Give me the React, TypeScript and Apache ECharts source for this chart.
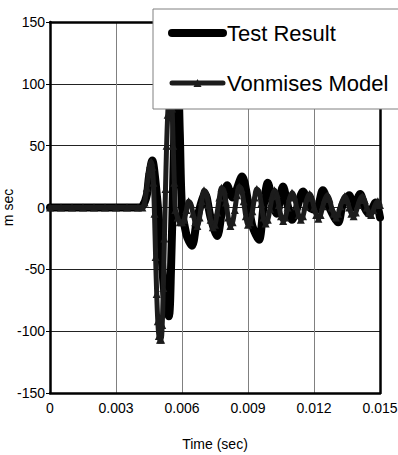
import React, { useEffect, useRef } from "react";
import * as echarts from "echarts";

const seriesNames = ["Test Result", "Vonmises Model"];
const xTicks = { min: 0, max: 0.015, interval: 0.003 };
const yTicks = { min: -150, max: 150, interval: 50 };

// [time (sec), value]
const testResult: number[][] = [
  [0, 0], [0.001, 0], [0.002, 0], [0.003, 0], [0.004, 0], [0.0042, 1],
  [0.0044, 10], [0.0045, 25], [0.00465, 38], [0.0048, 20], [0.005, -20],
  [0.0052, -70], [0.0054, -88], [0.0055, -50], [0.0056, 20], [0.0057, 90],
  [0.0058, 112], [0.0059, 60], [0.006, 0], [0.0062, -22], [0.00645, -31],
  [0.0067, -8], [0.00705, 11], [0.0073, -8], [0.0076, -23], [0.0078, -5],
  [0.00805, 18], [0.0083, 8], [0.00873, 25], [0.009, 5], [0.0092, -15],
  [0.0095, -26], [0.0097, 0], [0.0099, 20], [0.0101, 5], [0.0103, -5],
  [0.01059, 17], [0.0108, 2], [0.011, -10], [0.0112, -2], [0.0115, 13],
  [0.0118, 0], [0.0121, -2], [0.0124, 14], [0.0127, 0], [0.0131, -12],
  [0.0133, 2], [0.0136, 10], [0.0138, 0], [0.0141, 11], [0.0143, 0],
  [0.0145, -5], [0.0148, 4], [0.015, -8],
];

const vonmisesModel: number[][] = [
  [0, 0], [0.0005, 0], [0.001, 0], [0.0015, 0], [0.002, 0], [0.0025, 0],
  [0.003, 0], [0.0035, 0], [0.004, 0], [0.0042, 0], [0.0043, 4],
  [0.0044, 16], [0.0045, 30], [0.00455, 35], [0.0046, 37], [0.00465, 33],
  [0.0047, 20], [0.00475, -5], [0.0048, -40], [0.00485, -70], [0.0049, -92],
  [0.00495, -104], [0.005, -107], [0.00505, -107], [0.0051, -95],
  [0.00515, -65], [0.0052, -25], [0.00525, 15], [0.0053, 50], [0.00535, 75],
  [0.0054, 90], [0.00545, 95], [0.0055, 93], [0.00555, 80], [0.0056, 50],
  [0.00565, 20], [0.0057, -2], [0.0058, -8], [0.0059, -12], [0.006, -12],
  [0.0061, -10], [0.0062, -2], [0.0063, 5], [0.0064, 3], [0.0065, -5],
  [0.0066, -12], [0.0067, -15], [0.0068, -8], [0.0069, 5], [0.007, 14],
  [0.0071, 12], [0.0072, 2], [0.0073, -10], [0.0074, -16], [0.0075, -14],
  [0.0076, -4], [0.0077, 8], [0.0078, 16], [0.0079, 14], [0.008, 4],
  [0.0081, -8], [0.0082, -15], [0.0083, -12], [0.0084, -2], [0.0085, 10],
  [0.0086, 17], [0.0087, 15], [0.0088, 5], [0.0089, -7], [0.009, -14],
  [0.0091, -12], [0.0092, -3], [0.0093, 8], [0.0094, 15], [0.0095, 13],
  [0.0096, 3], [0.0097, -8], [0.0098, -13], [0.0099, -10], [0.01, -1],
  [0.0101, 9], [0.0102, 14], [0.0103, 11], [0.0104, 2], [0.0105, -7],
  [0.0106, -11], [0.0107, -8], [0.0108, 0], [0.0109, 8], [0.011, 12],
  [0.0111, 9], [0.0112, 1], [0.0113, -6], [0.0114, -10], [0.0115, -7],
  [0.0116, 1], [0.0117, 8], [0.0118, 11], [0.0119, 8], [0.012, 0],
  [0.0121, -6], [0.0122, -9], [0.0123, -6], [0.0124, 1], [0.0125, 7],
  [0.0126, 10], [0.0127, 7], [0.0128, 0], [0.0129, -5], [0.013, -8],
  [0.0131, -5], [0.0132, 1], [0.0133, 6], [0.0134, 9], [0.0135, 6],
  [0.0136, 0], [0.0137, -5], [0.0138, -7], [0.0139, -4], [0.014, 2],
  [0.0141, 7], [0.0142, 9], [0.0143, 6], [0.0144, 0], [0.0145, -4],
  [0.0146, -6], [0.0147, -2], [0.0148, 3], [0.0149, 5], [0.015, 2],
];

const FONT = "'Liberation Sans', Arial, sans-serif";

export default function App() {
  const ref = useRef<HTMLDivElement>(null);
  useEffect(() => {
    if (!ref.current) return;
    const chart = echarts.init(ref.current, null, { renderer: "svg" });
    chart.setOption({
      animation: false,
      backgroundColor: "#ffffff",
      textStyle: { fontFamily: FONT },
      grid: {
        left: 50,
        right: 18,
        top: 22,
        bottom: 62,
        containLabel: false,
        outerBoundsMode: "none",
      },
      legend: {
        orient: "vertical",
        left: 153,
        top: 9,
        padding: [13, 24, 15, 15],
        itemGap: 28,
        itemWidth: 51,
        itemHeight: 10,
        backgroundColor: "#ffffff",
        borderColor: "#808080",
        borderWidth: 1,
        borderRadius: 0,
        z: 10,
        textStyle: { fontSize: 22, color: "#000", fontFamily: FONT, padding: [0, 0, 0, -1] },
        data: [
          {
            name: seriesNames[0],
            itemStyle: { opacity: 0 },
            lineStyle: { width: 8, cap: "round", color: "#000" },
          },
          {
            name: seriesNames[1],
            itemStyle: { color: "#1c1c1c" },
            lineStyle: { width: 5, cap: "round", color: "#1c1c1c" },
          },
        ],
      },
      xAxis: [
        {
          type: "value",
          min: xTicks.min,
          max: xTicks.max,
          interval: xTicks.interval,
          name: "Time (sec)",
          nameLocation: "middle",
          nameGap: 44,
          nameMoveOverlap: false,
          nameTextStyle: { fontSize: 14, color: "#000", fontFamily: FONT },
          axisLine: { show: true, onZero: false, lineStyle: { color: "#000", width: 2.5 } },
          axisTick: { show: false },
          axisLabel: {
            fontSize: 14,
            color: "#000",
            margin: 8,
            fontFamily: FONT,
            formatter: (v: number) => (v === 0 ? "0" : v.toFixed(3)),
          },
          splitLine: { show: true, lineStyle: { color: "#808080", width: 1 } },
        },
        {
          type: "value",
          position: "top",
          min: xTicks.min,
          max: xTicks.max,
          interval: xTicks.interval,
          axisLine: { show: true, onZero: false, lineStyle: { color: "#000", width: 2.5 } },
          axisTick: { show: false },
          axisLabel: { show: false },
          splitLine: { show: false },
        },
      ],
      yAxis: [
        {
          type: "value",
          min: yTicks.min,
          max: yTicks.max,
          interval: yTicks.interval,
          name: "m sec",
          nameLocation: "middle",
          nameGap: 35,
          nameMoveOverlap: false,
          nameRotate: 90,
          nameTextStyle: { fontSize: 14, color: "#000", fontFamily: FONT },
          axisLine: { show: true, onZero: false, lineStyle: { color: "#000", width: 2.5 } },
          axisTick: { show: true, length: 4, lineStyle: { color: "#000", width: 1 } },
          axisLabel: { fontSize: 14, color: "#000", margin: 5, fontFamily: FONT },
          splitLine: { show: true, lineStyle: { color: "#222", width: 1 } },
        },
        {
          type: "value",
          position: "right",
          min: yTicks.min,
          max: yTicks.max,
          interval: yTicks.interval,
          axisLine: { show: true, onZero: false, lineStyle: { color: "#000", width: 2.5 } },
          axisTick: { show: false },
          axisLabel: { show: false },
          splitLine: { show: false },
        },
      ],
      series: [
        {
          name: seriesNames[0],
          type: "line",
          xAxisIndex: 0,
          yAxisIndex: 0,
          data: testResult,
          symbol: "none",
          smooth: 0.3,
          color: "#000000",
          lineStyle: { color: "#000000", width: 8, cap: "round", join: "round" },
          z: 2,
        },
        {
          name: seriesNames[1],
          type: "line",
          xAxisIndex: 0,
          yAxisIndex: 0,
          data: vonmisesModel,
          symbol: "triangle",
          symbolSize: 8,
          showAllSymbol: true,
          smooth: 0.3,
          color: "#1c1c1c",
          itemStyle: { color: "#1c1c1c", borderWidth: 0 },
          lineStyle: { color: "#1c1c1c", width: 5, cap: "round", join: "round" },
          z: 3,
        },
      ],
    });
    return () => chart.dispose();
  }, []);
  return <div ref={ref} style={{ width: 398, height: 455, position: "absolute", left: 0, top: 0 }} />;
}
